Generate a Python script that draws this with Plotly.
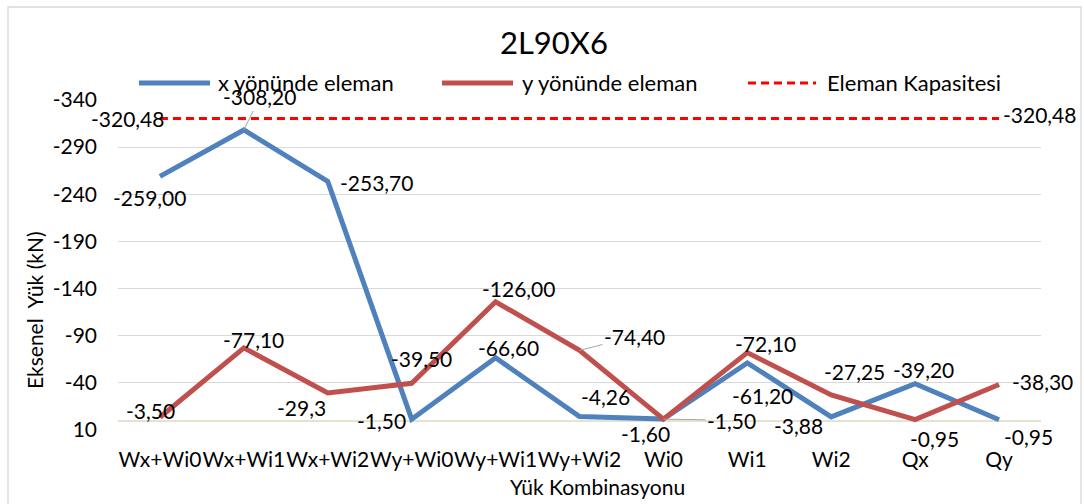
import plotly.graph_objects as go

# Load combinations on the category axis
categories = ["Wx+Wi0", "Wx+Wi1", "Wx+Wi2", "Wy+Wi0", "Wy+Wi1", "Wy+Wi2",
              "Wi0", "Wi1", "Wi2", "Qx", "Qy"]

# Axial loads (kN), compression negative
x_member = [-259.00, -308.20, -253.70, -1.50, -66.60, -4.26,
            -1.60, -61.20, -3.88, -39.20, -0.95]
y_member = [-3.50, -77.10, -29.3, -39.50, -126.00, -74.40,
            -1.50, -72.10, -27.25, -0.95, -38.30]
capacity = -320.48

# Value-axis ticks
y_tick_values = [10, -40, -90, -140, -190, -240, -290, -340]
y_tick_labels = ["10", "-40", "-90", "-140", "-190", "-240", "-290", "-340"]

# Number of decimals shown in each data label
x_decimals = [2] * 11
y_decimals = [2, 2, 1, 2, 2, 2, 2, 2, 2, 2, 2]

BLUE = "#4F81BD"
RED = "#C0504D"
CAP_RED = "#FF0000"
FONT = "Lato"
FS = 21

# Plot area in pixels (used to place paper-referenced items)
PL, PR, PT, PB = 118, 1041, 100, 430


def px_x(px):
    return (px - PL) / (PR - PL)


def px_y(py):
    return (PB - py) / (PB - PT)


# Label placement (screen px: dx right, dy down); ("arrow", ax, ay) draws a leader line
x_label_pos = [(-10, 21), ("arrow", 16, -33), (49, 1), (-30, 1), (13, -10), (26, -20),
               (-18, 14), (15, 33), (-33, 9), (8, -14), (29, 17)]
y_label_pos = [(-9, -7), (10, -8), (-26, 15), (10, -25), (23, -13), ("arrow", 55, -14),
               ("arrow", 68, 1), (18, -9), (23, -23), (19, 19), (43, -3)]


def fmt(v, d):
    return f"{v:.{d}f}".replace(".", ",")


fig = go.Figure()
fig.add_trace(go.Scatter(x=categories, y=x_member, mode="lines", name="x yönünde eleman",
                         line=dict(color=BLUE, width=5), showlegend=False))
fig.add_trace(go.Scatter(x=categories, y=y_member, mode="lines", name="y yönünde eleman",
                         line=dict(color=RED, width=5), showlegend=False))
fig.add_trace(go.Scatter(x=categories, y=[capacity] * len(categories), mode="lines",
                         name="Eleman Kapasitesi", showlegend=False,
                         line=dict(color=CAP_RED, width=3, dash="8px,5px")))

annotations = []
font = dict(family=FONT, size=FS, color="#000")


def add_labels(values, decimals, positions):
    for cat, v, d, pos in zip(categories, values, decimals, positions):
        txt = fmt(v, d)
        if pos[0] == "arrow":
            annotations.append(dict(x=cat, y=v, xref="x", yref="y", text=txt,
                                    showarrow=True, ax=pos[1], ay=pos[2], arrowhead=0,
                                    arrowwidth=1, arrowcolor="#A6A6A6", standoff=0,
                                    font=font))
        else:
            annotations.append(dict(x=cat, y=v, xref="x", yref="y", text=txt,
                                    showarrow=False, xshift=pos[0], yshift=-pos[1],
                                    font=font))


add_labels(x_member, x_decimals, x_label_pos)
add_labels(y_member, y_decimals, y_label_pos)

# Capacity labels at both ends of the dashed line
annotations.append(dict(x=categories[0], y=capacity, xref="x", yref="y", text=fmt(capacity, 2),
                        showarrow=False, xshift=-32, yshift=0, font=font))
annotations.append(dict(x=categories[-1], y=capacity, xref="x", yref="y", text=fmt(capacity, 2),
                        showarrow=False, xshift=40, yshift=4, font=font))

# Axis titles
annotations.append(dict(x=px_x(597), y=px_y(486), xref="paper", yref="paper",
                        text="Yük Kombinasyonu", showarrow=False,
                        xanchor="center", yanchor="middle", font=font))
annotations.append(dict(x=px_x(34), y=px_y(310), xref="paper", yref="paper",
                        text="Eksenel\u00a0 Yük (kN)", textangle=-90,
                        showarrow=False, xanchor="center", yanchor="middle", font=font))

# Legend: line sample followed by its series name
legend_items = [("x yönünde eleman", BLUE, "solid", 5, 139, 210, 216),
                ("y yönünde eleman", RED, "solid", 5, 442, 513, 520),
                ("Eleman Kapasitesi", CAP_RED, "dash", 3, 748, 816, 825)]
shapes = []
LEG_Y = px_y(83)
for name, color, dash, w, x0, x1, tx in legend_items:
    shapes.append(dict(type="line", xref="paper", yref="paper", x0=px_x(x0), x1=px_x(x1),
                       y0=LEG_Y, y1=LEG_Y,
                       line=dict(color=color, width=w,
                                 dash="8px,5px" if dash == "dash" else "solid")))
    annotations.append(dict(x=px_x(tx), y=px_y(82), xref="paper", yref="paper", text=name,
                            showarrow=False, xanchor="left", yanchor="middle",
                            font=dict(family=FONT, size=22, color="#000")))

# Outer chart border
shapes.append(dict(type="rect", xref="paper", yref="paper", x0=px_x(8), x1=px_x(1081),
                   y0=px_y(515), y1=px_y(7), line=dict(color="#D9D9D9", width=1.3),
                   fillcolor="rgba(0,0,0,0)", layer="below"))

fig.update_layout(
    width=1084, height=504,
    margin=dict(l=PL, r=1084 - PR, t=PT, b=504 - PB),
    paper_bgcolor="white", plot_bgcolor="white",
    font=font,
    title=dict(text="2L90X6", x=0.511, y=0.915, xanchor="center", yanchor="middle",
               font=dict(family=FONT, size=31, color="#000")),
    showlegend=False,
    annotations=annotations,
    shapes=shapes,
)

fig.update_xaxes(type="category", range=[-0.5, len(categories) - 0.5],
                 showgrid=False, showline=False, zeroline=False,
                 ticks="", ticklabelstandoff=15, tickangle=0, automargin=False,
                 tickfont=dict(family=FONT, size=21, color="#000"))
fig.update_yaxes(range=[10, -340], tickvals=y_tick_values, ticktext=y_tick_labels,
                 showgrid=True, gridcolor="#D9D9D9", gridwidth=1.3,
                 zeroline=True, zerolinecolor="#E6E2D2", zerolinewidth=1.5,
                 showline=False, ticks="", ticklabelstandoff=20, automargin=False,
                 tickfont=dict(family=FONT, size=FS, color="#000"))

fig.write_html("out.html")
